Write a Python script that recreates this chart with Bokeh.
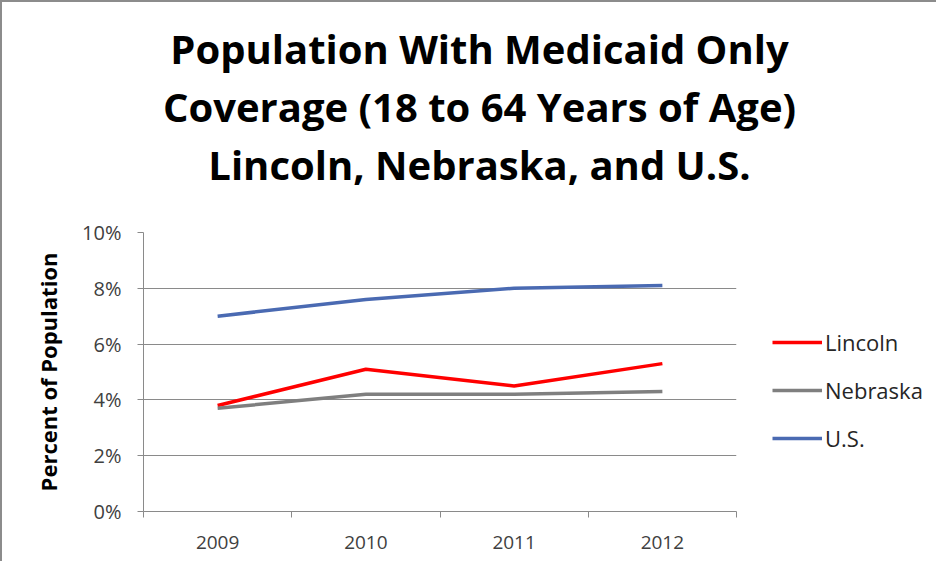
from bokeh.plotting import figure
from bokeh.layouts import column, row
from bokeh.models import Range1d, FixedTicker, Legend, LegendItem, Label
from bokeh.embed import file_html
from bokeh.resources import INLINE

# ---- data ----
years = ["2009", "2010", "2011", "2012"]
lincoln = [3.8, 5.1, 4.5, 5.3]
nebraska = [3.7, 4.2, 4.2, 4.3]
us = [7.0, 7.6, 8.0, 8.1]
series_names = ["Lincoln", "Nebraska", "U.S."]
series_colors = ["#ff0000", "#7f7f7f", "#4a6ab2"]
y_ticks = [0, 2, 4, 6, 8, 10]
title_lines = ["Population With Medicaid Only",
               "Coverage (18 to 64 Years of Age)",
               "Lincoln, Nebraska, and U.S."]

FONT = "Open Sans"
GRID = "#8a8a8a"
xs = [i + 0.5 for i in range(len(years))]
series = [lincoln, nebraska, us]


def blank_fig(w, h):
    f = figure(width=w, height=h, output_backend="svg", toolbar_location=None,
               x_axis_location=None, y_axis_location=None, title_location=None,
               x_range=Range1d(0, 1), y_range=Range1d(0, 1),
               min_border_left=0, min_border_right=0,
               min_border_top=0, min_border_bottom=0)
    f.grid.visible = False
    f.outline_line_color = None
    f.background_fill_color = "white"
    f.border_fill_color = "white"
    return f


# ---- title ----
pt = blank_fig(934, 210)
for i, line in enumerate(title_lines):
    pt.add_layout(Label(x=477, y=164 - i * 58, x_units="screen", y_units="screen",
                        text=line, text_align="center", text_baseline="alphabetic",
                        text_font=FONT, text_font_size="40px",
                        text_font_style="bold", text_color="#000000"))

# ---- main chart ----
p = figure(width=750, height=349, output_backend="svg", toolbar_location=None,
           title_location=None,
           x_range=Range1d(0, len(years)), y_range=Range1d(0, 10),
           min_border_left=141, min_border_right=16,
           min_border_top=20, min_border_bottom=50)
p.outline_line_color = None
p.background_fill_color = "white"
p.border_fill_color = "white"

xa = p.xaxis[0]
xa.ticker = FixedTicker(ticks=xs, minor_ticks=list(range(len(years) + 1)))
xa.major_label_overrides = {x: y for x, y in zip(xs, years)}
xa.major_tick_out = 0
xa.major_tick_in = 0
xa.minor_tick_out = 6
xa.minor_tick_in = 0
xa.minor_tick_line_color = GRID
xa.axis_line_color = GRID
xa.major_label_text_font = FONT
xa.major_label_text_font_size = "19px"
xa.major_label_text_color = "#404040"
xa.major_label_standoff = 18

ya = p.yaxis[0]
ya.ticker = FixedTicker(ticks=y_ticks, minor_ticks=[])
ya.major_label_overrides = {t: f"{t}%" for t in y_ticks}
ya.major_tick_out = 6
ya.major_tick_in = 0
ya.major_tick_line_color = GRID
ya.minor_tick_line_color = None
ya.axis_line_color = GRID
ya.major_label_text_font = FONT
ya.major_label_text_font_size = "20px"
ya.major_label_text_color = "#404040"
ya.major_label_standoff = 16
ya.axis_label = "Percent of Population"
ya.axis_label_text_font = FONT
ya.axis_label_text_font_size = "22px"
ya.axis_label_text_font_style = "bold"
ya.axis_label_text_color = "#000000"
ya.axis_label_standoff = 16

p.xgrid.grid_line_color = None
p.ygrid.grid_line_color = GRID
p.ygrid.grid_line_width = 1

for vals, col in zip(series, series_colors):
    p.line(xs, vals, line_color=col, line_width=3.5)

# ---- legend panel (series drawn off-view; only their legend glyphs show) ----
# its frame is aligned by the row with the main chart's frame (20px top, 50px bottom)
pl = blank_fig(184, 349)
items = []
for name, vals, col in zip(series_names, series, series_colors):
    r = pl.line(xs, vals, line_color=col, line_width=3.5)
    items.append(LegendItem(label=name, renderers=[r]))
legend = Legend(items=items, location=(20, 58), orientation="vertical",
                glyph_width=50, glyph_height=30, label_height=30,
                label_standoff=3, spacing=18, padding=0, margin=0,
                border_line_color=None, background_fill_alpha=0,
                label_text_font=FONT, label_text_font_size="22px",
                label_text_color="#262626")
pl.add_layout(legend)

layout = column(pt, row(p, pl))
layout.styles = {"border-left": "2px solid #8c8c8c", "border-top": "2px solid #8c8c8c"}

open("out.html", "w").write(file_html(layout, INLINE))
